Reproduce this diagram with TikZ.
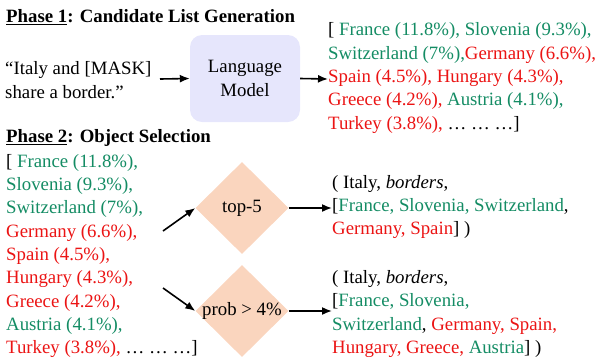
\documentclass[tikz,border=0pt]{standalone}
\usepackage{fontspec}
\setmainfont{Liberation Serif}
\usetikzlibrary{shapes.geometric,arrows.meta}
\definecolor{cg}{RGB}{20,140,100}
\definecolor{cr}{RGB}{235,20,20}
\definecolor{lmfill}{RGB}{230,230,252}
\definecolor{dfill}{RGB}{250,213,190}
\newcommand{\G}[1]{\textcolor{cg}{#1}}
\newcommand{\R}[1]{\textcolor{cr}{#1}}
\begin{document}
\begin{tikzpicture}[x=1pt,y=-1pt,
  every node/.style={inner sep=0pt,font=\fontsize{18.8}{23.3}\selectfont},
  txt/.style={anchor=west,align=left},
  head/.style={anchor=west,font=\fontsize{18.8}{23.3}\selectfont\bfseries},
  lmbox/.style={draw=none,fill=lmfill,rounded corners=12pt,minimum width=110pt,minimum height=87pt,align=center},
  dia/.style={diamond,draw=none,fill=dfill,minimum width=93pt,minimum height=92pt},
  arr/.style={-{Latex[length=10pt,width=8pt]},line width=1.6pt}
]
\useasboundingbox (0,0) rectangle (598,360);

\node[head] (h1) at (6,17) {\underline{Phase 1}: Candidate List Generation};
\node[txt] (q) at (5,80) {“Italy and [MASK]\\share a border.”};
\node[lmbox] (lm) at (245,78.5) {Language\\Model};
\node[txt] (l1) at (328,78) {[ \G{France (11.8\%), Slovenia (9.3\%),}\\
\G{Switzerland (7\%),}\R{Germany (6.6\%),}\\
\R{Spain (4.5\%), Hungary (4.3\%),}\\
\R{Greece (4.2\%),} \G{Austria (4.1\%),}\\
\R{Turkey (3.8\%),} … … …]};

\node[head] (h2) at (6,138) {\underline{Phase 2}: Object Selection};
\node[txt] (l2) at (6,256) {[ \G{France (11.8\%),}\\
\G{Slovenia (9.3\%),}\\
\G{Switzerland (7\%),}\\
\R{Germany (6.6\%),}\\
\R{Spain (4.5\%),}\\
\R{Hungary (4.3\%),}\\
\R{Greece (4.2\%),}\\
\G{Austria (4.1\%),}\\
\R{Turkey (3.8\%),} … … …]};

\node[dia,label={center:top-5}] (d1) at (242,208) {};
\node[dia,label={center:prob > 4\%}] (d2) at (242,311) {};

\node[txt] (r1) at (332,207) {( Italy, \textit{borders},\\\relax
[\G{France, Slovenia, Switzerland}, \\\relax
\R{Germany, Spain}] )};
\node[txt] (r2) at (332,314) {( Italy, \textit{borders},\\\relax
[\G{France, Slovenia,}\\\relax
\G{Switzerland}, \R{Germany, Spain,}\\\relax
\R{Hungary, Greece,} \G{Austria}] )};

\coordinate (a1) at (163,231);
\coordinate (a2) at (163,288);

\draw[arr] (160,79) -- (lm.west);
\draw[arr] (lm.east) -- (328,79);
\draw[arr] (a1) -- (d1.west);
\draw[arr] (a2) -- (d2.west);
\draw[arr] (d1.east) -- (332,208);
\draw[arr] (d2.east) -- (332,311);
\end{tikzpicture}
\end{document}
